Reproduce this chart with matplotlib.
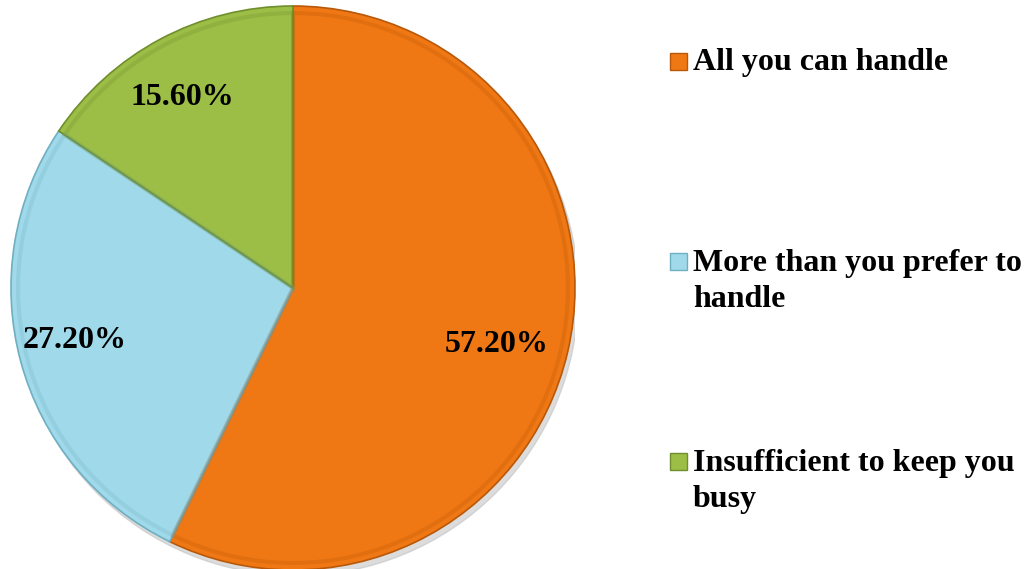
import matplotlib.pyplot as plt
from matplotlib.patches import Rectangle
import numpy as np

# survey answers, share of respondents
categories = ['All you can handle', 'More than you prefer to\nhandle', 'Insufficient to keep you\nbusy']
shares = [57.2, 27.2, 15.6]
pct_labels = ['57.20%', '27.20%', '15.60%']
colors = ['#F07814', '#A0DAEA', '#9CBE46']
edge_colors = ['#B85808', '#6FAFC2', '#6F8E2C']

plt.rcParams['font.family'] = ['Liberation Serif', 'DejaVu Serif']
plt.rcParams['font.weight'] = 'bold'

fig = plt.figure(figsize=(10.34, 5.69), dpi=100)
W, H = 1034, 569

# pie axes, centred at (293, 288) px with a 282 px radius
cx, cy, r = 293, 288, 282
ax = fig.add_axes([(cx - r) / W, (H - cy - r) / H, 2 * r / W, 2 * r / H])

# soft drop shadow under the pie
shadow = plt.Circle((0.012, -0.02), 1.0, color='#bbbbbb', alpha=0.5, zorder=0)
ax.add_patch(shadow)

wedges, _ = ax.pie(shares, colors=colors, startangle=90, counterclock=False,
                   radius=1.0, wedgeprops=dict(linewidth=1.2, zorder=2))
for w, ec in zip(wedges, edge_colors):
    w.set_edgecolor(ec)

# thin bevel ring just inside each slice
inner, _ = ax.pie(shares, colors=colors, startangle=90, counterclock=False,
                  radius=0.975, wedgeprops=dict(linewidth=3, fill=False, zorder=3))
for w, ec in zip(inner, edge_colors):
    w.set_edgecolor(ec)
    w.set_alpha(0.25)

# percentage labels inside slices (distance from centre, small angle nudge)
start = 90.0
dists = [0.75, 0.795, 0.78]
nudges = [-2.6, -1.7, 2.0]
for s, lab, d, nd in zip(shares, pct_labels, dists, nudges):
    mid = np.deg2rad(start - s * 3.6 / 2 + nd)
    start -= s * 3.6
    ax.text(d * np.cos(mid), d * np.sin(mid), lab, ha='center', va='center',
            fontsize=23, fontweight='bold', color='black', zorder=5)

ax.set_xlim(-1, 1)
ax.set_ylim(-1, 1)
ax.set_aspect('equal')
ax.axis('off')

# legend on the right, drawn by hand to keep wrapped labels
legend_base = [70, 270, 470]
line_gap = 37
for lab, c, ec, y in zip(categories, colors, edge_colors, legend_base):
    fig.patches.append(Rectangle((670 / W, (H - y + 0.5) / H), 17 / W, 17 / H,
                                 transform=fig.transFigure, facecolor=c,
                                 edgecolor=ec, linewidth=1))
    # baseline alignment uses the last line, so shift down for wrapped labels
    y_last = y + (lab.count('\n')) * line_gap
    fig.text(693 / W, (H - y_last) / H, lab, ha='left', va='baseline', fontsize=23,
             fontweight='bold', linespacing=1.31, color='black')

fig.savefig('out.png', dpi=100)
